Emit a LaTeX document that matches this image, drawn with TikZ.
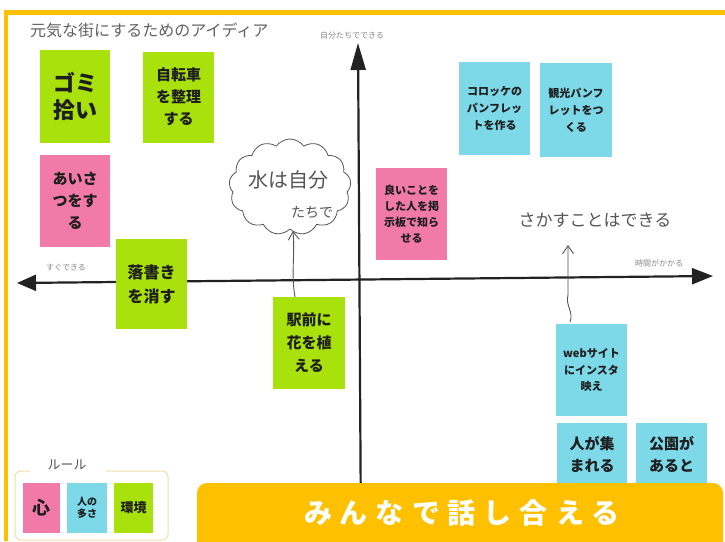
\documentclass[tikz,border=0pt]{standalone}
\usepackage{fontspec}
\newfontfamily\jp{Noto Sans CJK JP}
\usetikzlibrary{arrows.meta,shapes.symbols}
\definecolor{frameor}{HTML}{FFC000}
\definecolor{notegreen}{HTML}{A8E10C}
\definecolor{notepink}{HTML}{F27AA8}
\definecolor{noteblue}{HTML}{7DD8E8}
\definecolor{notetext}{HTML}{1E1E1E}
\definecolor{axiscol}{HTML}{222222}
\definecolor{labelgray}{HTML}{8A8A8A}
\definecolor{handgray}{HTML}{555555}
\definecolor{rulecol}{HTML}{F0DFA8}
\newcommand{\fs}[2]{\fontsize{#1}{#2}\selectfont}
\newcommand{\ls}{\hspace{8pt}}
\begin{document}
\begin{tikzpicture}[x=1pt,y=-1pt,
  note/.style={inner sep=0pt, align=center, text=notetext},
  axis/.style={draw=axiscol, line width=2.2pt},
  axlabel/.style={inner sep=0pt, text=labelgray, font=\jp\fs{8}{9}},
  hand/.style={draw=handgray, line width=0.9pt},
  handtext/.style={inner sep=0pt, text=handgray, align=center}]
\useasboundingbox (0,0) rectangle (725,541);
\fill[white] (0,0) rectangle (725,541);

% frame
\draw[frameor, line width=5pt] (4,12.5) -- (725,12.5);
\draw[frameor, line width=4pt] (6,10) -- (6,541);

% title
\node[inner sep=0pt, anchor=west, text=black!62, font=\jp\fs{16}{18}] (title) at (30,30) {元気な街にするためのアイディア};

% axes
\coordinate (xl) at (17,283);
\coordinate (xr) at (713,276);
\coordinate (yt) at (358,43);
\coordinate (yb) at (361,541);
\draw[axis, {Triangle[length=19pt,width=16pt]}-{Triangle[length=21pt,width=16pt]}] (xl) -- (xr);
\draw[axis, -{Triangle[length=27pt,width=15pt]}] (yb) -- (yt);

% axis labels
\node[axlabel] (labtop) at (352,35) {自分たちでできる};
\node[axlabel] (lableft) at (66,268) {すぐできる};
\node[axlabel] (labright) at (659,263) {時間がかかる};

% notes
\node[note, fill=notegreen, minimum width=70pt, minimum height=93pt, font=\jp\bfseries\fs{22}{27}] (gomi) at (75,96.5) {ゴミ\\拾い};
\node[note, fill=notegreen, minimum width=71pt, minimum height=91pt, font=\jp\bfseries\fs{15}{22}] (jitensha) at (178.5,97) {自転車\\を整理\\する};
\node[note, fill=notepink, minimum width=70pt, minimum height=92pt, font=\jp\bfseries\fs{15}{22}] (aisatsu) at (75,201) {あいさ\\つをす\\る};
\node[note, fill=notegreen, minimum width=71pt, minimum height=90pt, font=\jp\bfseries\fs{16}{24}] (rakugaki) at (151.5,284) {落書き\\を消す};
\node[note, fill=notegreen, minimum width=72pt, minimum height=92pt, font=\jp\bfseries\fs{15}{23}] (eki) at (309,343) {駅前に\\花を植\\える};
\node[note, fill=noteblue, minimum width=71pt, minimum height=93pt, font=\jp\bfseries\fs{11}{17}] (korokke) at (494.5,108.5) {コロッケの\\パンフレッ\\トを作る};
\node[note, fill=noteblue, minimum width=72pt, minimum height=94pt, font=\jp\bfseries\fs{11}{17}] (kanko) at (576,110) {観光パンフ\\レットをつ\\くる};
\node[note, fill=notepink, minimum width=71pt, minimum height=92pt, font=\jp\bfseries\fs{11}{16}] (yoi) at (411.5,214) {良いことを\\した人を掲\\示板で知ら\\せる};
\node[note, fill=noteblue, minimum width=71pt, minimum height=92pt, font=\jp\bfseries\fs{11}{16.5}] (web) at (591.5,370) {webサイト\\にインスタ\\映え};
\node[note, fill=noteblue, minimum width=70pt, minimum height=92pt] (hito) at (592,469) {};
\node[note, anchor=north, font=\jp\bfseries\fs{15}{22}] (hitotext) at (592,436) {人が集\\まれる};
\node[note, fill=noteblue, minimum width=71pt, minimum height=92pt] (koen) at (671.5,469) {};
\node[note, anchor=north, font=\jp\bfseries\fs{15}{22}] (koentext) at (671.5,436) {公園が\\あると};

% hand-drawn cloud
\node[cloud, cloud puffs=13, cloud puff arc=110, aspect=1.25, draw=handgray, line width=0.8pt, minimum width=122pt, minimum height=96pt, inner sep=0pt] (cloud) at (290,187) {};
\node[handtext, font=\jp\fs{20}{22}] (mizu) at (288,180) {水は自分};
\node[handtext, font=\jp\fs{14}{16}] (tachi) at (312,212) {たちで};
\coordinate (a1s) at (295,297);
\coordinate (a1e) at (293,231);
\draw[hand, -{Straight Barb[length=8pt,width=11pt]}] (a1s) .. controls (291,275) and (295,255) .. (a1e);

% second hand note
\node[handtext, font=\jp\fs{17}{19}] (sakasu) at (595,220) {さかすことはできる};
\coordinate (a2s) at (570,322);
\coordinate (a2e) at (568,245);
\draw[hand, -{Straight Barb[length=8pt,width=11pt]}] (a2s) .. controls (574,312) and (565,305) .. (568,295) -- (a2e);

% rule legend
\draw[rulecol, line width=1pt, rounded corners=6] (30,471) -- (15,471) -- (15,540) -- (168,540) -- (168,471) -- (106,471);
\node[handtext, font=\jp\fs{13}{14}] (rule) at (67,465) {ルール};
\node[note, fill=notepink, minimum width=37pt, minimum height=50pt, font=\jp\bfseries\fs{18}{20}] (kokoro) at (41.5,508) {心};
\node[note, fill=noteblue, minimum width=40pt, minimum height=50pt, font=\jp\bfseries\fs{10}{12}] (ooosa) at (87,508) {人の\\多さ};
\node[note, fill=notegreen, minimum width=39pt, minimum height=50pt, font=\jp\bfseries\fs{13}{15}] (kankyo) at (133.5,508) {環境};

% banner
\fill[frameor, rounded corners=10] (197,483) rectangle (723,560);
\node[inner sep=0pt, text=white, font=\jp\bfseries\fs{28}{30}] (banner) at (462,513) {み\ls ん\ls な\ls で\ls 話\ls し\ls 合\ls え\ls る};
\end{tikzpicture}
\end{document}
